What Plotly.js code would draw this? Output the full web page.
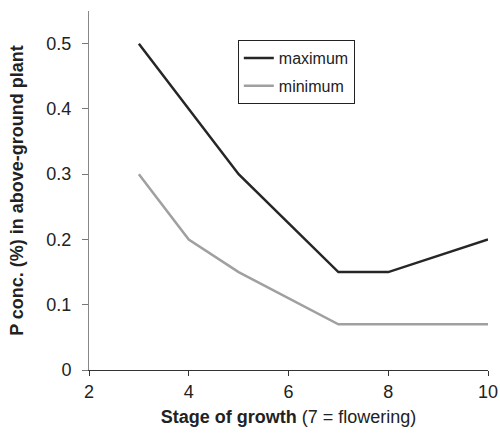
<!DOCTYPE html>
<html><head><meta charset="utf-8">
<script src="https://cdn.plot.ly/plotly-3.0.1.min.js"></script>
<style>body{margin:0;background:#fff}#c{width:500px;height:444px}</style>
</head><body><div id="c"></div>
<script>
const stages = [3, 4, 5, 6, 7, 8, 10];
const maximum = [0.5, 0.4, 0.3, 0.225, 0.15, 0.15, 0.2];
const minimum = [0.3, 0.2, 0.15, 0.11, 0.07, 0.07, 0.07];
const xTicks = [2, 4, 6, 8, 10];
const yTicks = [0, 0.1, 0.2, 0.3, 0.4, 0.5];
const yTickText = ['0', '0.1', '0.2', '0.3', '0.4', '0.5'];

const font = 'Liberation Sans, Arial, sans-serif';
const traces = [
  {x: stages, y: maximum, name: 'maximum', legendgroup: 'a', mode: 'lines', line: {color: '#262626', width: 2.5}},
  {x: stages, y: minimum, name: 'minimum', legendgroup: 'b', mode: 'lines', line: {color: '#a0a0a0', width: 2.5}}
];
const layout = {
  width: 500, height: 444,
  margin: {l: 89, r: 12, t: 11, b: 74},
  paper_bgcolor: '#fff', plot_bgcolor: '#fff',
  font: {family: font, color: '#222', size: 17},
  showlegend: true,
  legend: {x: 0.373, y: 0.919, xanchor: 'left', yanchor: 'top', bordercolor: '#222', borderwidth: 1,
           font: {size: 16, color: '#222'}, bgcolor: '#fff', traceorder: 'grouped', tracegroupgap: 4, itemwidth: 30},
  xaxis: {range: [2, 10], tickvals: xTicks, ticks: 'outside', ticklen: 5, tickcolor: '#333',
          showline: true, linecolor: '#333', linewidth: 1, showgrid: false, zeroline: false,
          tickfont: {size: 18, color: '#222'},
          title: {text: '<b>Stage of growth</b> (7 = flowering)', font: {size: 18, color: '#222'}, standoff: 9}},
  yaxis: {range: [0, 0.55], tickvals: yTicks, ticktext: yTickText, ticks: 'outside', ticklen: 6, tickcolor: '#777',
          showline: true, linecolor: '#888', linewidth: 1, showgrid: false, zeroline: false,
          ticklabelstandoff: 7,
          tickfont: {size: 18, color: '#222'},
          title: {text: '<b>P conc. (%) in above-ground plant</b>', font: {size: 18, color: '#222'}, standoff: 18}}
};
Plotly.newPlot('c', traces, layout, {displayModeBar: false, staticPlot: true});
</script></body></html>
